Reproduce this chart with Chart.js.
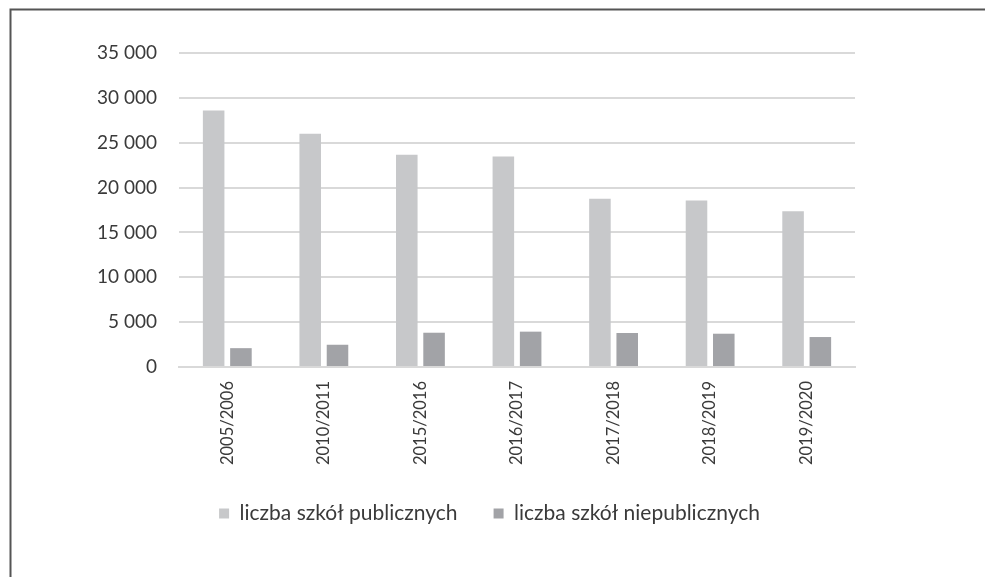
<!DOCTYPE html>
<html lang="pl">
<head>
<meta charset="utf-8">
<title>Liczba szkół publicznych i niepublicznych</title>
<script src="https://cdn.jsdelivr.net/npm/chart.js@4/dist/chart.umd.min.js"></script>
<style>
  html, body { margin: 0; padding: 0; background: #ffffff; }
  #wrap { position: relative; width: 985px; height: 577px; }
</style>
</head>
<body>
<div id="wrap"><canvas id="chart" width="985" height="577"></canvas></div>
<script>
// School years
const years = ['2005/2006', '2010/2011', '2015/2016', '2016/2017', '2017/2018', '2018/2019', '2019/2020'];
// Number of public schools
const publicSchools = [28600, 26000, 23650, 23450, 18750, 18550, 17350];
// Number of non-public schools
const nonPublicSchools = [2100, 2480, 3820, 3940, 3790, 3710, 3340];
// Value axis
const yMax = 35000;
const yStep = 5000;

const textColor = '#3a3a3a';
const gridColor = '#d9d9d9';

// Thin frame along the top and left edges of the figure
const framePlugin = {
  id: 'frame',
  afterDraw(chart) {
    const ctx = chart.ctx;
    ctx.save();
    ctx.strokeStyle = '#555555';
    ctx.lineWidth = 2;
    ctx.beginPath();
    ctx.moveTo(10.5, 577);
    ctx.lineTo(10.5, 9.5);
    ctx.lineTo(985, 9.5);
    ctx.stroke();
    ctx.restore();
  }
};

const formatThousands = v => String(v).replace(/\B(?=(\d{3})+(?!\d))/g, ' ');

new Chart(document.getElementById('chart'), {
  type: 'bar',
  data: {
    labels: years,
    datasets: [
      {
        label: 'liczba szkół publicznych',
        data: publicSchools,
        backgroundColor: '#c7c8ca',
        categoryPercentage: 0.565,
        barPercentage: 0.79
      },
      {
        label: 'liczba szkół niepublicznych',
        data: nonPublicSchools,
        backgroundColor: '#a2a3a7',
        categoryPercentage: 0.565,
        barPercentage: 0.79
      }
    ]
  },
  options: {
    responsive: false,
    animation: false,
    layout: { padding: { left: 24, right: 30, top: 53, bottom: 43 } },
    plugins: {
      tooltip: { enabled: false },
      legend: {
        position: 'bottom',
        labels: {
          boxWidth: 10,
          boxHeight: 10,
          padding: 36,
          color: textColor,
          font: { family: 'Lato', size: 21 }
        }
      }
    },
    scales: {
      x: {
        grid: { display: false, drawTicks: false },
        border: { display: true, color: gridColor, width: 2 },
        ticks: {
          color: textColor,
          font: { family: 'Lato', size: 16.5 },
          minRotation: 90,
          maxRotation: 90,
          padding: 14
        },
        afterFit(scale) { scale.height = 100; }
      },
      y: {
        min: 0,
        max: yMax,
        grid: { color: gridColor, lineWidth: 2, drawTicks: false },
        border: { display: false },
        ticks: {
          stepSize: yStep,
          color: textColor,
          font: { family: 'Lato', size: 19 },
          padding: 22,
          callback: v => formatThousands(v)
        },
        afterFit(scale) { scale.width = 155; }
      },
      // empty spacer on the right side of the plot
      yRight: {
        position: 'right',
        display: true,
        grid: { display: false, drawTicks: false },
        border: { display: false },
        ticks: { display: false },
        afterFit(scale) { scale.width = 100; }
      }
    }
  },
  plugins: [framePlugin]
});
</script>
</body>
</html>
